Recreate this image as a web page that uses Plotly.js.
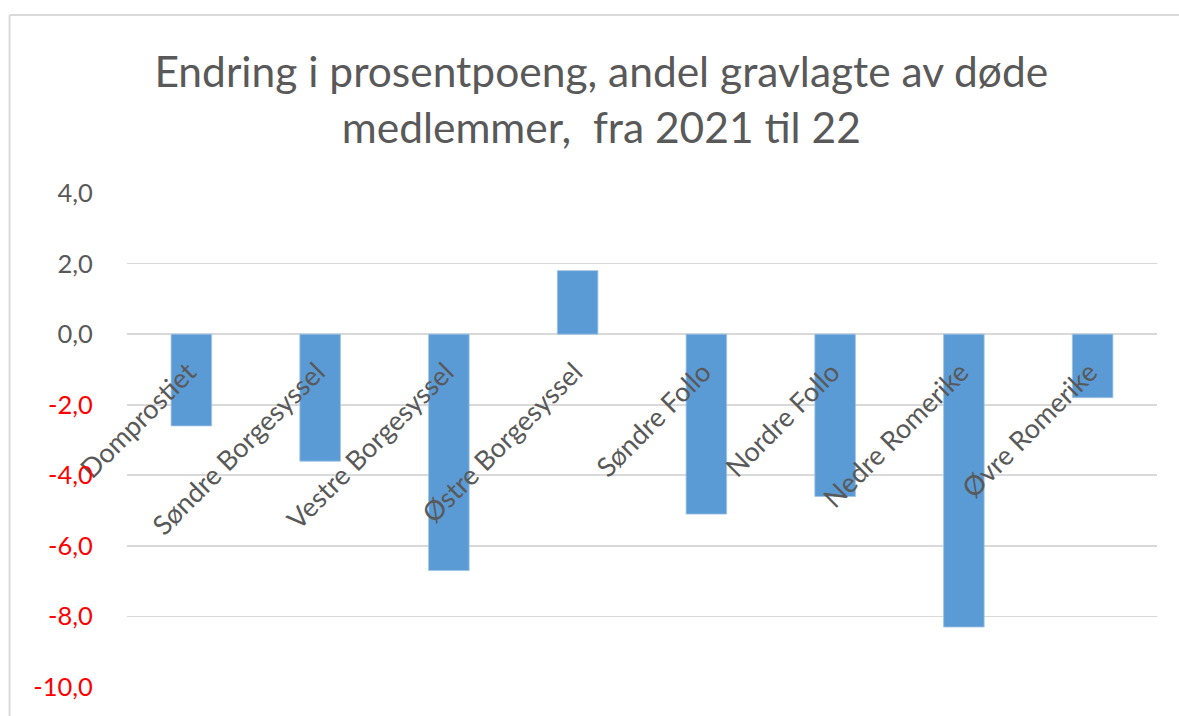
<!DOCTYPE html>
<html>
<head>
<meta charset="utf-8">
<script src="https://cdn.plot.ly/plotly-3.0.1.min.js"></script>
<style>html,body{margin:0;padding:0;background:#fff;}#chart{width:1179px;height:716px;}</style>
</head>
<body>
<div id="chart"></div>
<script>
const categories = ["Domprostiet", "Søndre Borgesyssel", "Vestre Borgesyssel", "Østre Borgesyssel", "Søndre Follo", "Nordre Follo", "Nedre Romerike", "Øvre Romerike"];
const values = [-2.6, -3.6, -6.7, 1.8, -5.1, -4.6, -8.3, -1.8];
const yTickVals = [4, 2, 0, -2, -4, -6, -8, -10];

const yTickText = yTickVals.map(v => {
  const s = v.toFixed(1).replace('.', ',');
  return v < 0 ? '<span style="color:#FF0000">' + s + '</span>' : s;
});

const font = "Lato, 'Open Sans', sans-serif";

const trace = {
  type: 'bar',
  x: categories,
  y: values,
  width: 0.315,
  marker: {color: '#5B9BD5', line: {color: '#9DC3E6', width: 0.8}},
  hoverinfo: 'x+y'
};

const layout = {
  width: 1179, height: 716,
  margin: {l: 127, r: 22, t: 193, b: 29, pad: 0},
  paper_bgcolor: '#ffffff', plot_bgcolor: '#ffffff',
  showlegend: false,
  title: {
    text: 'Endring i prosentpoeng, andel gravlagte av døde<br>medlemmer,  fra 2021 til 22',
    x: 0.51, xanchor: 'center', y: 0.878, yanchor: 'middle',
    font: {family: font, size: 42.5, color: '#595959'}
  },
  xaxis: {
    type: 'category',
    range: [-0.5, 7.5],
    anchor: 'free', position: 10/14,
    showgrid: false, zeroline: false, showline: false,
    ticks: '', tickangle: -45,
    ticklabelstandoff: 16, ticklabelshift: -3,
    tickfont: {family: font, size: 27, color: '#595959'},
    automargin: false
  },
  yaxis: {
    range: [-10, 4],
    tickvals: yTickVals, ticktext: yTickText,
    showgrid: true, gridcolor: '#D9D9D9', gridwidth: 1.6,
    zeroline: false, showline: false,
    ticks: 'outside', ticklen: 28, tickcolor: 'rgba(0,0,0,0)',
    tickfont: {family: font, size: 25.5, color: '#595959'},
    automargin: false
  },
  shapes: [
    {type: 'line', xref: 'paper', yref: 'paper', x0: -0.114, x1: -0.114, y0: -0.2, y1: 1.3603, line: {color: '#D9D9D9', width: 2}},
    {type: 'line', xref: 'paper', yref: 'paper', x0: -0.114, x1: 1.05, y0: 1.3603, y1: 1.3603, line: {color: '#D9D9D9', width: 2}}
  ]
};

Plotly.newPlot('chart', [trace], layout, {displayModeBar: false, staticPlot: true});
</script>
</body>
</html>
